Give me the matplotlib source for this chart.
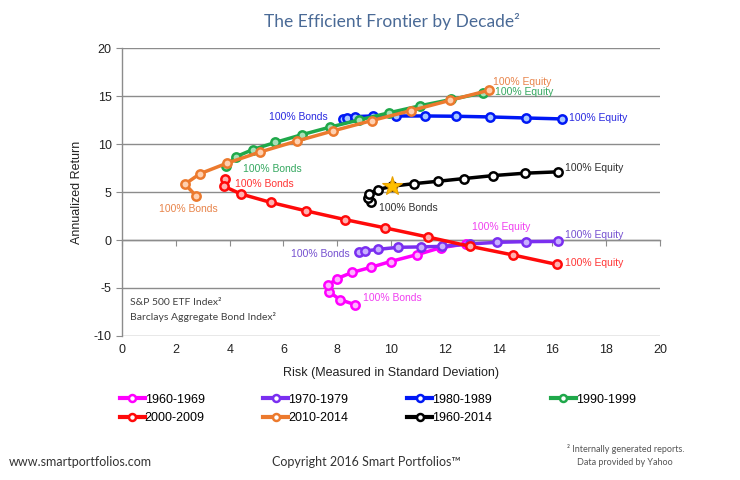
import matplotlib
matplotlib.use("Agg")
import matplotlib.pyplot as plt

# ---------------- data ----------------
series_names = ["1960-1969", "1970-1979", "1980-1989", "1990-1999",
                "2000-2009", "2010-2014", "1960-2014"]

x_1960s = [8.64, 8.10, 7.70, 7.66, 7.98, 8.55, 9.27, 9.98, 10.97, 11.85, 12.80]
y_1960s = [-6.72, -6.21, -5.41, -4.72, -4.03, -3.38, -2.83, -2.24, -1.52, -0.80, -0.40]

x_1970s = [8.81, 9.04, 9.53, 10.27, 11.10, 11.91, 12.94, 13.95, 15.02, 16.21]
y_1970s = [-1.21, -1.14, -0.97, -0.76, -0.72, -0.66, -0.41, -0.24, -0.17, -0.14]

x_1980s = [8.22, 8.35, 8.65, 9.31, 10.20, 11.25, 12.41, 13.66, 15.02, 16.37]
y_1980s = [12.65, 12.72, 12.85, 12.92, 12.92, 12.92, 12.89, 12.82, 12.71, 12.61]

x_1990s = [3.87, 4.22, 4.86, 5.70, 6.67, 7.72, 8.81, 9.94, 11.09, 12.24, 13.43]
y_1990s = [7.69, 8.66, 9.42, 10.17, 10.96, 11.75, 12.51, 13.26, 13.99, 14.64, 15.33]

x_2000s = [3.83, 3.79, 4.42, 5.52, 6.83, 8.28, 9.78, 11.37, 12.94, 14.55, 16.17]
y_2000s = [6.36, 5.59, 4.79, 3.92, 3.04, 2.13, 1.26, 0.31, -0.66, -1.57, -2.55]

x_2010s = [2.75, 2.34, 2.90, 3.89, 5.12, 6.50, 7.85, 9.28, 10.73, 12.18, 13.64]
y_2010s = [4.58, 5.83, 6.91, 7.99, 9.16, 10.31, 11.37, 12.44, 13.47, 14.54, 15.60]

x_all = [9.24, 9.14, 9.17, 9.50, 10.03, 10.85, 11.75, 12.71, 13.80, 14.98, 16.21]
y_all = [3.95, 4.37, 4.83, 5.24, 5.60, 5.87, 6.12, 6.40, 6.71, 6.96, 7.10]

star_x = [10.03]
star_y = [5.62]

x_ticks = [0, 2, 4, 6, 8, 10, 12, 14, 16, 18, 20]
y_ticks = [-10, -5, 0, 5, 10, 15, 20]

# end labels: (text, x, y, ha, series index)
end_labels = [
    ("100% Bonds", 8.95, -6.0, "left", 0),
    ("100% Equity", 13.0, 1.35, "left", 0),
    ("100% Bonds", 8.45, -1.45, "right", 1),
    ("100% Equity", 16.45, 0.5, "left", 1),
    ("100% Bonds", 7.65, 12.85, "right", 2),
    ("100% Equity", 16.6, 12.75, "left", 2),
    ("100% Bonds", 4.5, 7.4, "left", 3),
    ("100% Equity", 13.85, 15.45, "left", 3),
    ("100% Bonds", 4.2, 5.85, "left", 4),
    ("100% Equity", 16.45, -2.35, "left", 4),
    ("100% Bonds", 2.45, 3.2, "center", 5),
    ("100% Equity", 13.8, 16.45, "left", 5),
    ("100% Bonds", 9.55, 3.3, "left", 6),
    ("100% Equity", 16.45, 7.5, "left", 6),
]

# ---------------- style ----------------
line_colors = ["#FF00FF", "#7A2FF0", "#0018F5", "#1FA84A", "#FF0A0A", "#EC7A2E", "#000000"]
face_colors = ["#FFB0FF", "#C8B0FF", "#A8C8FF", "#A8E0B8", "#FFB0B0", "#FFD0B0", "#FFFFFF"]
label_colors = ["#F040F0", "#7550D0", "#2A2AE0", "#35A860", "#FF3535", "#E8844A", "#303030"]

xs = [x_1960s, x_1970s, x_1980s, x_1990s, x_2000s, x_2010s, x_all]
ys = [y_1960s, y_1970s, y_1980s, y_1990s, y_2000s, y_2010s, y_all]

plt.rcParams["font.family"] = ["Liberation Sans", "DejaVu Sans"]
plt.rcParams["axes.unicode_minus"] = False

fig = plt.figure(figsize=(7.4, 4.8), dpi=100)
ax = fig.add_axes([0.165, 0.30, 0.727, 0.60])

handles = []
for i in range(len(series_names)):
    h, = ax.plot(xs[i], ys[i], color=line_colors[i], lw=2.5,
                 marker="o", ms=6, mew=1.8, mfc=face_colors[i],
                 mec=line_colors[i], label=series_names[i], zorder=3)
    handles.append(h)

ax.plot(star_x, star_y, linestyle="none", marker="*", ms=15,
        mfc="#FFC000", mec="#E8A000", mew=0.8, zorder=5)

for txt, tx, ty, ha, si in end_labels:
    ax.text(tx, ty, txt, color=label_colors[si], fontsize=7.5,
            ha=ha, va="center", zorder=6)

ax.set_xlim(0, 20)
ax.set_ylim(-10, 20)
ax.set_yticks(y_ticks)
ax.set_xticks(x_ticks)

grid_col = "#8C8C8C"
ax.grid(axis="y", color=grid_col, lw=1.0, zorder=0)
ax.set_axisbelow(True)
for s in ["top", "right"]:
    ax.spines[s].set_visible(False)
ax.spines["left"].set_color(grid_col)
ax.spines["left"].set_linewidth(1.0)
ax.spines["bottom"].set_position(("data", 0))
ax.spines["bottom"].set_color(grid_col)
ax.spines["bottom"].set_linewidth(1.0)
ax.tick_params(axis="x", labelbottom=False, length=4, color=grid_col, direction="out")
ax.tick_params(axis="y", length=4, color=grid_col, labelsize=9, labelcolor="#222222")

sec = ax.secondary_xaxis("bottom")
sec.set_xticks(x_ticks)
sec.tick_params(length=0, labelsize=9, pad=6, labelcolor="#222222")
sec.spines["bottom"].set_visible(False)
sec.set_xlabel("Risk (Measured in Standard Deviation)", fontsize=9, labelpad=8, color="#222222")

ax.set_ylabel("Annualized Return", fontsize=9, labelpad=8, color="#222222")

ax.text(0.3, -6.5, "S&P 500 ETF Index\u00b2", fontsize=7.5, color="#404040",
        family=["Lato", "DejaVu Sans"], va="center")
ax.text(0.3, -8.0, "Barclays Aggregate Bond Index\u00b2", fontsize=7.5, color="#404040",
        family=["Lato", "DejaVu Sans"], va="center")

fig.text(0.53, 0.955, "The Efficient Frontier by Decade\u00b2", fontsize=12.5,
         color="#4A6A96", ha="center", va="center", family=["Lato", "DejaVu Sans"])

# row-major legend order for a 4-column layout
legend_order = [0, 4, 1, 5, 2, 6, 3]
leg = fig.legend(handles=[handles[k] for k in legend_order],
                 loc="upper left", bbox_to_anchor=(0.155, 0.19),
                 ncol=4, frameon=False, fontsize=9, handlelength=2.0,
                 handletextpad=0.0, columnspacing=4.7, labelspacing=0.5,
                 borderaxespad=0)
for lh in leg.legend_handles:
    lh.set_markersize(5)
    lh.set_markerfacecolor("white")
    lh.set_linewidth(3)

fig.text(0.012, 0.037, "www.smartportfolios.com", fontsize=9, color="#333333",
         family=["Lato", "DejaVu Sans"], va="center")
fig.text(0.495, 0.037, "Copyright 2016 Smart Portfolios\u2122", fontsize=9, color="#333333",
         family=["Lato", "DejaVu Sans"], va="center", ha="center")
fig.text(0.845, 0.065, "\u00b2 Internally generated reports.", fontsize=6.5, color="#555555",
         family=["Lato", "DejaVu Sans"], va="center", ha="center")
fig.text(0.845, 0.036, "Data provided by Yahoo", fontsize=6.5, color="#555555",
         family=["Lato", "DejaVu Sans"], va="center", ha="center")

fig.savefig("out.png", dpi=100)
